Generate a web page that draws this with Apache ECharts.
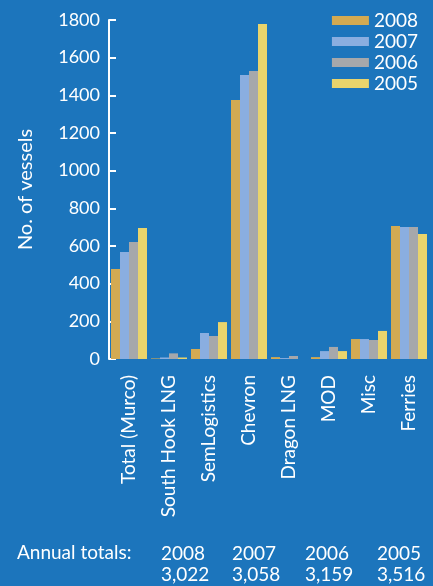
<!DOCTYPE html>
<html lang="en">
<head>
    <meta charset="UTF-8">
    <title>No. of vessels</title>
    <script src="https://cdn.jsdelivr.net/npm/echarts@6/dist/echarts.min.js"></script>
    <style>
        body { margin: 0; padding: 0; overflow: hidden; background: #1c75bc; }
        #main { width: 433px; height: 586px; }
    </style>
</head>
<body>
<div id="main"></div>
<script>
    var categories = ['Total (Murco)', 'South Hook LNG', 'SemLogistics', 'Chevron', 'Dragon LNG', 'MOD', 'Misc', 'Ferries'];
    var years = ['2008', '2007', '2006', '2005'];
    var v2008 = [478, 3, 53, 1375, 10, 10, 106, 706];
    var v2007 = [568, 8, 138, 1508, 5, 42, 106, 701];
    var v2006 = [621, 30, 122, 1529, 16, 64, 101, 701];
    var v2005 = [696, 8, 196, 1779, 0, 42, 149, 664];
    var yTicks = [0, 200, 400, 600, 800, 1000, 1200, 1400, 1600, 1800];
    var annualTotals = ['3,022', '3,058', '3,159', '3,516'];

    var colors = ['#d3aa52', '#8aaee0', '#a6a8ab', '#e9d46c'];
    var font = 'Lato, "Open Sans", sans-serif';
    var chart = echarts.init(document.getElementById('main'));

    var seriesData = [v2008, v2007, v2006, v2005];
    var series = years.map(function (y, i) {
        return {
            name: y,
            type: 'bar',
            data: seriesData[i],
            barGap: '0%',
            barCategoryGap: '10%',
            itemStyle: { color: colors[i] }
        };
    });

    // annual totals row under the chart
    var totalsX = [161, 232, 305, 377];
    var graphics = [{
        type: 'text', left: 17, top: 543,
        style: { text: 'Annual totals:', fill: '#fff', font: '19px ' + font }
    }];
    years.forEach(function (y, i) {
        graphics.push({
            type: 'text', left: totalsX[i], top: 543,
            style: { text: y + '\n' + annualTotals[i], fill: '#fff', font: '19px ' + font, lineHeight: 21 }
        });
    });

    var option = {
        backgroundColor: '#1c75bc',
        color: colors,
        animation: false,
        legend: {
            data: years,
            orient: 'vertical',
            right: 10,
            top: 6,
            itemWidth: 37,
            itemHeight: 9,
            itemGap: 2,
            icon: 'rect',
            textStyle: { color: '#fff', fontSize: 19, lineHeight: 18, fontFamily: font }
        },
        grid: { left: 109, top: 20, width: 320, bottom: 227 },
        xAxis: {
            type: 'category',
            data: categories,
            axisLine: { show: false },
            axisTick: { show: false },
            axisLabel: {
                rotate: 90,
                color: '#fff',
                fontSize: 19,
                fontFamily: font,
                margin: 16,
                interval: 0
            }
        },
        yAxis: {
            type: 'value',
            min: 0,
            max: 1800,
            interval: 200,
            name: 'No. of vessels',
            nameLocation: 'middle',
            nameGap: 73,
            nameTextStyle: { color: '#fff', fontSize: 20, fontFamily: font },
            splitLine: { show: false },
            axisLine: { show: true, lineStyle: { color: '#fff', width: 2 } },
            axisTick: { show: true, inside: true, length: 7, lineStyle: { color: '#fff', width: 2 } },
            axisLabel: {
                color: '#fff',
                fontSize: 18,
                fontFamily: font,
                margin: 9,
                formatter: function (v) { return yTicks.indexOf(v) >= 0 ? String(v) : ''; }
            }
        },
        graphic: graphics,
        series: series
    };
    chart.setOption(option);
</script>
</body>
</html>
